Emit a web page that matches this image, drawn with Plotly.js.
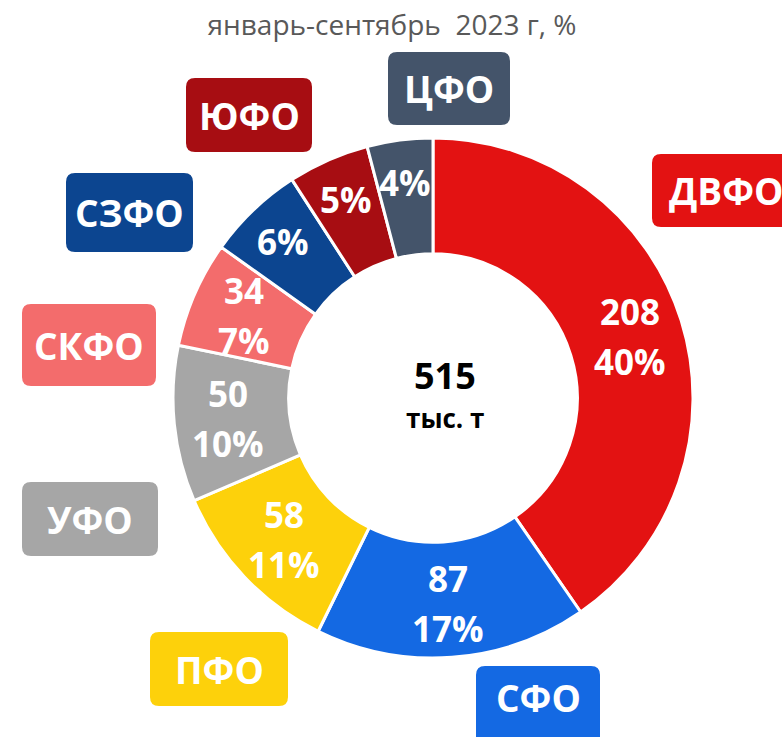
<!DOCTYPE html>
<html>
<head>
<meta charset="utf-8">
<script src="https://cdn.plot.ly/plotly-3.0.1.min.js"></script>
<style>html,body{margin:0;padding:0;background:#fff;}#chart{width:782px;height:737px;}</style>
</head>
<body>
<div id="chart"></div>
<script>
// ---- data ----
const regions = ['ДВФО', 'СФО', 'ПФО', 'УФО', 'СКФО', 'СЗФО', 'ЮФО', 'ЦФО'];
const values = [208, 87, 58, 50, 34, 31, 26, 21];
const showValue = [true, true, true, true, true, false, false, false];
const colors = ['#E31212', '#1469E3', '#FDD10B', '#A6A6A6', '#F36C6C', '#0C4590', '#A70D12', '#44546A'];
const totalLabel = '515';
const unitLabel = 'тыс. т';
const titleText = 'январь-сентябрь  2023 г, %';

// ---- layout geometry (pixels) ----
const W = 782, H = 737;
const cx = 433, cy = 398, R = 260, hole = 0.555;
const textR = 206, textRSmall = 217, lineGap = 25;
// label boxes: [x0, y0, x1, y1] in pixels
const boxes = [
  [652, 154, 800, 227],
  [476, 666, 600, 745],
  [150, 632, 288, 706],
  [22, 482, 158, 556],
  [22, 304, 156, 386],
  [66, 173, 193, 252],
  [186, 78, 312, 152],
  [388, 52, 510, 125]
];

const px = x => x / W;
const py = y => 1 - y / H;

function roundedRect(b, r) {
  const [x0, y0, x1, y1] = b;
  const pts = [
    `M ${px(x0 + r)},${py(y0)}`,
    `L ${px(x1 - r)},${py(y0)}`,
    `Q ${px(x1)},${py(y0)} ${px(x1)},${py(y0 + r)}`,
    `L ${px(x1)},${py(y1 - r)}`,
    `Q ${px(x1)},${py(y1)} ${px(x1 - r)},${py(y1)}`,
    `L ${px(x0 + r)},${py(y1)}`,
    `Q ${px(x0)},${py(y1)} ${px(x0)},${py(y1 - r)}`,
    `L ${px(x0)},${py(y0 + r)}`,
    `Q ${px(x0)},${py(y0)} ${px(x0 + r)},${py(y0)}`,
    'Z'
  ];
  return pts.join(' ');
}

const total = values.reduce((a, b) => a + b, 0);
const FONT = '"Open Sans", "Noto Sans", sans-serif';

const shapes = [];
const annotations = [];

boxes.forEach((b, i) => {
  shapes.push({
    type: 'path', xref: 'paper', yref: 'paper',
    path: roundedRect(b, 9),
    fillcolor: colors[i], line: {width: 0}, layer: 'above'
  });
  annotations.push({
    xref: 'paper', yref: 'paper',
    x: px((b[0] + Math.min(b[2], W + 50)) / 2), y: py((b[1] + Math.min(b[3], 737)) / 2 + (i === 1 ? -4 : 0)),
    xanchor: 'center', yanchor: 'middle', showarrow: false,
    text: '<b>' + regions[i] + '</b>',
    font: {family: FONT, size: 37, color: '#FFFFFF'}
  });
});

function addText(x, y, t) {
  annotations.push({
    xref: 'paper', yref: 'paper', x: px(x), y: py(y),
    xanchor: 'center', yanchor: 'middle', showarrow: false,
    text: '<b>' + t + '</b>',
    font: {family: FONT, size: 35, color: '#FFFFFF'}
  });
}

// slice labels from data
let cum = 0;
values.forEach((v, i) => {
  const mid = (cum + v / 2) / total * 2 * Math.PI;
  cum += v;
  const r = showValue[i] ? textR : textRSmall;
  const x = cx + r * Math.sin(mid);
  const y = cy - r * Math.cos(mid);
  const pct = Math.round(v / total * 100) + '%';
  if (showValue[i]) {
    addText(x, y - lineGap, String(v));
    addText(x, y + lineGap, pct);
  } else {
    addText(x, y, pct);
  }
});

annotations.push({
  xref: 'paper', yref: 'paper', x: px(445), y: py(375),
  xanchor: 'center', yanchor: 'middle', showarrow: false,
  text: '<b>' + totalLabel + '</b>',
  font: {family: FONT, size: 36, color: '#000000'}
});
annotations.push({
  xref: 'paper', yref: 'paper', x: px(445), y: py(418),
  xanchor: 'center', yanchor: 'middle', showarrow: false,
  text: '<b>' + unitLabel + '</b>',
  font: {family: FONT, size: 26, color: '#000000'}
});

const trace = {
  type: 'pie',
  labels: regions,
  values: values,
  hole: hole,
  sort: false,
  direction: 'clockwise',
  rotation: 0,
  textinfo: 'none',
  textposition: 'none',
  marker: {colors: colors, line: {color: '#FFFFFF', width: 3}},
  domain: {x: [px(cx - R), px(cx + R)], y: [py(cy + R), py(cy - R)]},
  hoverinfo: 'label+value+percent',
  showlegend: false
};

const layout = {
  width: W, height: H,
  margin: {l: 0, r: 0, t: 0, b: 0},
  paper_bgcolor: '#FFFFFF',
  showlegend: false,
  title: {
    text: titleText,
    font: {family: FONT, size: 28, color: '#595959'},
    x: px(392), xanchor: 'center', y: py(25), yanchor: 'middle', yref: 'paper'
  },
  shapes: shapes,
  annotations: annotations
};

Plotly.newPlot('chart', [trace], layout, {displayModeBar: false, staticPlot: true});
</script>
</body>
</html>
